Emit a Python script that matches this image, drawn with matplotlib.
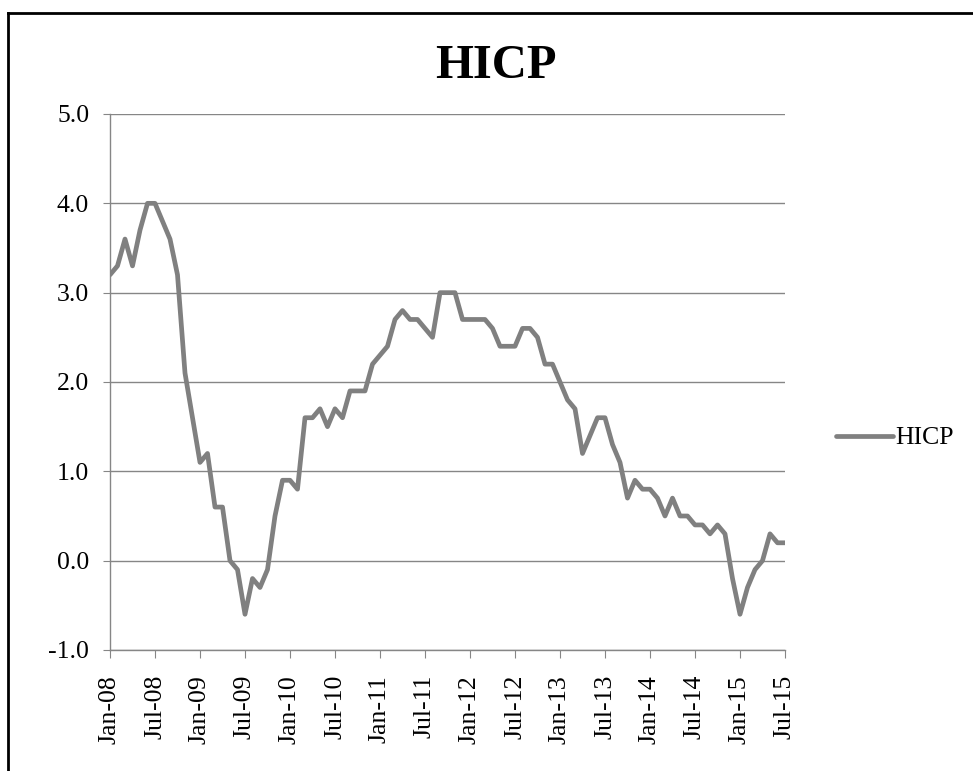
import matplotlib
matplotlib.use("Agg")
import matplotlib.pyplot as plt
from matplotlib.lines import Line2D

# Monthly HICP, Jan-08 .. Jul-15
months = ["Jan", "Feb", "Mar", "Apr", "May", "Jun",
          "Jul", "Aug", "Sep", "Oct", "Nov", "Dec"]
dates = [f"{m}-{y:02d}" for y in range(8, 16) for m in months][:91]

hicp = [3.2, 3.3, 3.6, 3.3, 3.7, 4.0, 4.0, 3.8, 3.6, 3.2, 2.1, 1.6,   # 2008
        1.1, 1.2, 0.6, 0.6, 0.0, -0.1, -0.6, -0.2, -0.3, -0.1, 0.5, 0.9,  # 2009
        0.9, 0.8, 1.6, 1.6, 1.7, 1.5, 1.7, 1.6, 1.9, 1.9, 1.9, 2.2,   # 2010
        2.3, 2.4, 2.7, 2.8, 2.7, 2.7, 2.6, 2.5, 3.0, 3.0, 3.0, 2.7,   # 2011
        2.7, 2.7, 2.7, 2.6, 2.4, 2.4, 2.4, 2.6, 2.6, 2.5, 2.2, 2.2,   # 2012
        2.0, 1.8, 1.7, 1.2, 1.4, 1.6, 1.6, 1.3, 1.1, 0.7, 0.9, 0.8,   # 2013
        0.8, 0.7, 0.5, 0.7, 0.5, 0.5, 0.4, 0.4, 0.3, 0.4, 0.3, -0.2,  # 2014
        -0.6, -0.3, -0.1, 0.0, 0.3, 0.2, 0.2]                          # 2015

yticks = [-1.0, 0.0, 1.0, 2.0, 3.0, 4.0, 5.0]

plt.rcParams["font.family"] = ["Liberation Serif", "DejaVu Serif"]

W, H = 973, 771
fig = plt.figure(figsize=(W / 100, H / 100), dpi=100)
ax = fig.add_axes([110 / W, (H - 650) / H, 675 / W, 536 / H])

grey = "#868686"
x = list(range(len(hicp)))
ax.plot(x, hicp, color="#808080", lw=3.4, solid_joinstyle="round",
        solid_capstyle="round", label="HICP", zorder=3)

ax.set_xlim(0, len(hicp) - 1)
ax.set_ylim(-1.0, 5.0)
ax.set_yticks(yticks)
ax.set_yticklabels([f"{v:.1f}" for v in yticks])
ax.set_xticks(x[::6])
ax.set_xticklabels(dates[::6], rotation=90)
ax.grid(axis="y", color=grey, lw=1.0)
ax.set_axisbelow(True)

for s in ["top", "right"]:
    ax.spines[s].set_visible(False)
for s in ["left", "bottom"]:
    ax.spines[s].set_color(grey)
    ax.spines[s].set_linewidth(1.0)

ax.tick_params(axis="y", length=5, color=grey, labelsize=18.5, pad=10)
ax.tick_params(axis="x", length=6, color=grey, labelsize=18.5, pad=12)

fig.text(496 / W, 1 - 66 / H, "HICP", ha="center", va="center",
         fontsize=35, fontweight="bold")

fig.legend(loc="center left", bbox_to_anchor=(826 / W, 1 - 438 / H),
           frameon=False, fontsize=18.5, handlelength=2.2, handletextpad=0.1,
           borderaxespad=0)

# chart area border (left and top edges visible)
fig.add_artist(Line2D([8 / W, 8 / W], [0, 1 - 13 / H], color="black", lw=2))
fig.add_artist(Line2D([8 / W, 1], [1 - 13 / H, 1 - 13 / H], color="black", lw=2))

fig.savefig("out.png", dpi=100, facecolor="white")
